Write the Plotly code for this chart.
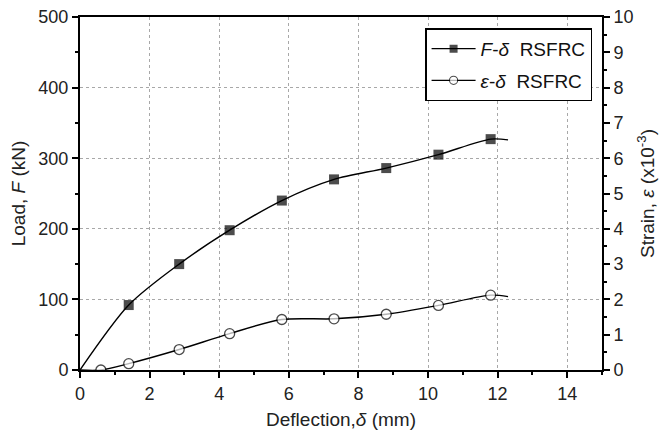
import plotly.graph_objects as go

# Load-deflection (F-δ) RSFRC
defl_load = [0.0, 1.4, 2.85, 4.3, 5.8, 7.3, 8.8, 10.3, 11.8, 12.3]
load = [0, 92, 150, 198, 240, 270, 286, 305, 327, 326]
load_marked = [False, True, True, True, True, True, True, True, True, False]

# Strain-deflection (ε-δ) RSFRC, strain in x10^-3
defl_strain = [0.0, 0.6, 1.4, 2.85, 4.3, 5.8, 7.3, 8.8, 10.3, 11.8, 12.3]
strain = [0.0, 0.0, 0.18, 0.58, 1.03, 1.43, 1.45, 1.58, 1.83, 2.12, 2.08]
strain_marked = [False, True, True, True, True, True, True, True, True, True, False]

x_ticks = [0, 2, 4, 6, 8, 10, 12, 14]

FONT = "Liberation Sans, Arial, sans-serif"

fig = go.Figure()

fig.add_trace(go.Scatter(
    x=defl_load, y=load, mode="lines+markers",
    name="<i>F</i>-<i>δ</i>  RSFRC", legendgroup="a",
    line=dict(color="black", width=1.4, shape="spline", smoothing=0.8),
    marker=dict(symbol="square", color="black",
                size=[10 if m else 0 for m in load_marked],
                line=dict(width=0)),
))

fig.add_trace(go.Scatter(
    x=defl_strain, y=strain, mode="lines+markers", yaxis="y2",
    name="<i>ε</i>-<i>δ</i>  RSFRC", legendgroup="b",
    line=dict(color="black", width=1.4, shape="spline", smoothing=0.8),
    marker=dict(symbol="circle", color="white",
                size=[10 if m else 0 for m in strain_marked],
                line=dict(color="black", width=[1.3 if m else 0 for m in strain_marked])),
))

axis_common = dict(
    showline=True, linecolor="black", linewidth=2,
    ticks="outside", tickcolor="black", ticklen=6, tickwidth=1.5,
    tickfont=dict(family=FONT, size=18, color="#222"),
    zeroline=False, automargin=False,
)

fig.update_layout(
    width=664, height=432,
    margin=dict(l=80, r=62, t=17, b=62),
    paper_bgcolor="white", plot_bgcolor="white",
    font=dict(family=FONT, size=18, color="#222"),
    showlegend=True,
    legend=dict(
        x=0.981, y=0.968, xanchor="right", yanchor="top",
        bordercolor="black", borderwidth=1.5, bgcolor="white",
        font=dict(family=FONT, size=19, color="#111"),
        traceorder="grouped", tracegroupgap=4, itemwidth=44,
    ),
    xaxis=dict(
        range=[0, 15], tickvals=x_ticks, mirror=True,
        showgrid=True, gridcolor="#a8a8a8", griddash="dot", gridwidth=1,
        minor=dict(dtick=1, ticks="outside", ticklen=3, tickcolor="black", showgrid=False),
        title=dict(text="Deflection,<i>δ</i> (mm)", font=dict(family=FONT, size=19), standoff=10),
        **axis_common,
    ),
    yaxis=dict(
        range=[0, 500], dtick=100,
        showgrid=True, gridcolor="#a8a8a8", griddash="dot", gridwidth=1,
        minor=dict(dtick=50, ticks="outside", ticklen=3, tickcolor="black", showgrid=False),
        title=dict(text="Load, <i>F</i> (kN)", font=dict(family=FONT, size=19), standoff=8),
        **axis_common,
    ),
    yaxis2=dict(
        range=[0, 10], dtick=1, overlaying="y", side="right",
        showgrid=False,
        minor=dict(dtick=0.5, ticks="outside", ticklen=3, tickcolor="black"),
        title=dict(text="Strain, <i>ε</i> (x10<sup>-3</sup>)", font=dict(family=FONT, size=19), standoff=8),
        **axis_common,
    ),
)

fig.write_html("out.html")
